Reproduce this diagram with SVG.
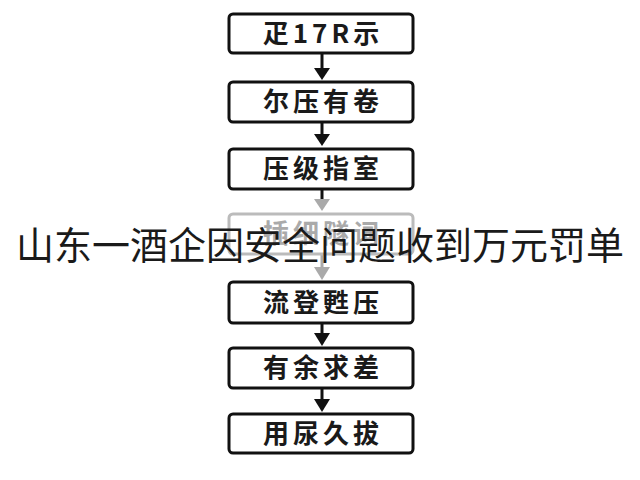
<svg xmlns="http://www.w3.org/2000/svg" width="640" height="480" viewBox="0 0 640 480">
<defs>
<style>
.box{fill:#fff;stroke:#111;stroke-width:3}
.boxg{fill:#fff;stroke:#bbb;stroke-width:3}
.t{font-family:"Noto Sans CJK SC","Liberation Sans",sans-serif;font-size:26px;font-weight:bold;fill:#1a1a1a;text-anchor:middle;letter-spacing:4px}
.tg{font-family:"Noto Sans CJK SC","Liberation Sans",sans-serif;font-size:26px;font-weight:bold;fill:#aaa;text-anchor:middle;letter-spacing:4px}
.ln{stroke:#111;stroke-width:3}
.lng{stroke:#aaa;stroke-width:3}
.ov{font-family:"Noto Sans CJK SC","Liberation Sans",sans-serif;font-size:38px;fill:#1a1a1a;text-anchor:middle}
</style>
</defs>
<g id="connectors">
<line class="ln" x1="322" y1="53" x2="322" y2="70"/><path d="M314,68L330,68L322,80z" fill="#111"/>
<line class="ln" x1="322" y1="122" x2="322" y2="136"/><path d="M314,134L330,134L322,146z" fill="#111"/>
<line class="ln" x1="322" y1="189" x2="322" y2="200"/><path d="M314,199L330,199L322,211z" fill="#aaa"/>
<line class="lng" x1="322" y1="255" x2="322" y2="268"/><path d="M314,267L330,267L322,280z" fill="#aaa"/>
<line class="ln" x1="322" y1="323" x2="322" y2="335"/><path d="M314,333L330,333L322,346z" fill="#111"/>
<line class="ln" x1="322" y1="388" x2="322" y2="401"/><path d="M314,399L330,399L322,412z" fill="#111"/>
</g>
<g id="n1"><rect class="box" x="229" y="14" width="184" height="39" rx="4"/><text class="t" x="323" y="43">疋17R示</text></g>
<g id="n2"><rect class="box" x="229" y="82" width="184" height="40" rx="4"/><text class="t" x="323" y="111">尔压有卷</text></g>
<g id="n3"><rect class="box" x="229" y="149" width="184" height="40" rx="4"/><text class="t" x="323" y="178">压级指室</text></g>
<g id="n4"><rect class="boxg" x="229" y="214" width="184" height="40" rx="4"/><text class="tg" x="323" y="243">插细隧词</text></g>
<g id="n5"><rect class="box" x="229" y="282" width="184" height="41" rx="4"/><text class="t" x="323" y="312">流登甦压</text></g>
<g id="n6"><rect class="box" x="229" y="348" width="184" height="40" rx="4"/><text class="t" x="323" y="377">有余求差</text></g>
<g id="n7"><rect class="box" x="229" y="414" width="184" height="39" rx="4"/><text class="t" x="323" y="443">用尿久拔</text></g>
<text class="ov" x="320" y="259">山东一酒企因安全问题收到万元罚单</text>
</svg>
